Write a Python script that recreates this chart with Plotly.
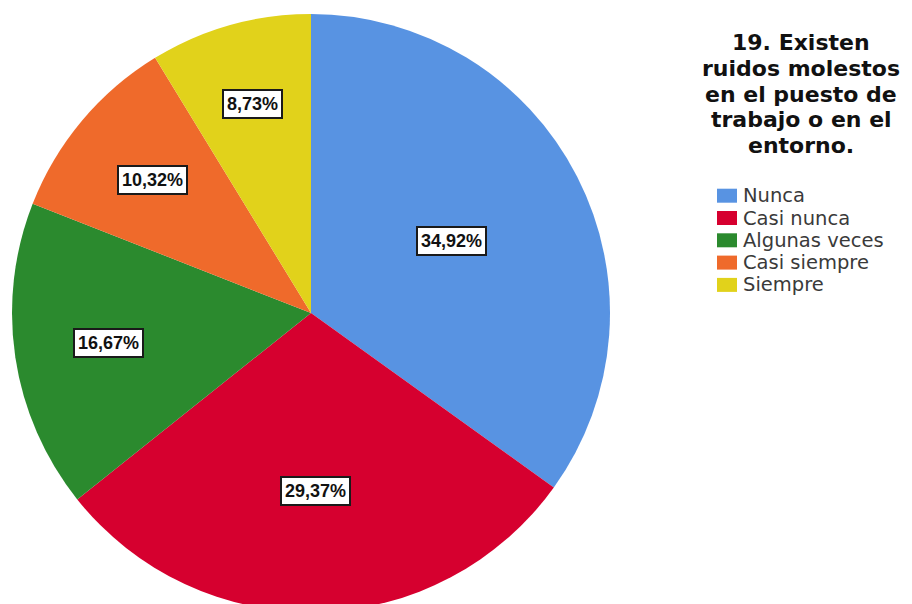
import math
import plotly.graph_objects as go

# Survey answers and their share of responses (%)
categories = ["Nunca", "Casi nunca", "Algunas veces", "Casi siempre", "Siempre"]
percentages = [34.92, 29.37, 16.67, 10.32, 8.73]
title_lines = ["19. Existen", "ruidos molestos", "en el puesto de", "trabajo o en el", "entorno."]

# Styling
colors = ["#5893E2", "#D6002F", "#2B8A2E", "#EF6A2B", "#E1D21B"]
label_radius = [0.527, 0.597, 0.684, 0.692, 0.727]  # radial placement of value boxes (fraction of radius)

W, H = 912, 612
pie_left, pie_right, pie_top = 12, 610, 14
radius = (pie_right - pie_left) / 2
cx = pie_left + radius
cy = pie_top + radius


def px(x):
    return x / W


def py(y):
    return 1 - y / H


def fmt_pct(v):
    return f"{v:.2f}".replace(".", ",") + "%"


fig = go.Figure(
    go.Pie(
        labels=categories,
        values=percentages,
        sort=False,
        direction="clockwise",
        rotation=0,
        marker=dict(colors=colors, line=dict(width=0)),
        textinfo="none",
        hoverinfo="label+percent",
        showlegend=False,
        domain=dict(x=[pie_left / W, pie_right / W], y=[0, 1 - pie_top / H]),
    )
)

annotations = []
shapes = []

# Value boxes placed along each slice's middle angle
total = sum(percentages)
cum = 0.0
for v, frac in zip(percentages, label_radius):
    mid = (cum + v / 2) / total * 2 * math.pi
    cum += v
    lx = cx + radius * frac * math.sin(mid)
    ly = cy - radius * frac * math.cos(mid)
    annotations.append(dict(
        x=px(lx), y=py(ly), xref="paper", yref="paper",
        text=fmt_pct(v), showarrow=False,
        xanchor="center", yanchor="middle",
        font=dict(family="Liberation Sans", size=18, color="#111111", weight="bold"),
        bgcolor="#FFFFFF", bordercolor="#1A1A1A", borderwidth=2, borderpad=3,
    ))

# Legend title
title_x, title_y0, title_step = 801, 42.5, 25.8
for i, line in enumerate(title_lines):
    annotations.append(dict(
        x=px(title_x), y=py(title_y0 + i * title_step), xref="paper", yref="paper",
        text=line, showarrow=False, xanchor="center", yanchor="middle",
        font=dict(family="DejaVu Sans", size=22, color="#111111", weight="bold"),
    ))

# Legend entries
sw_left, sw_w, sw_h = 717, 20, 14
row_y0, row_step = 195.7, 22.3
text_left = 741
for i, (name, col) in enumerate(zip(categories, colors)):
    ry = row_y0 + i * row_step
    shapes.append(dict(
        type="rect", xref="paper", yref="paper",
        x0=px(sw_left), x1=px(sw_left + sw_w),
        y0=py(ry + sw_h / 2), y1=py(ry - sw_h / 2),
        fillcolor=col, line=dict(width=0),
    ))
    annotations.append(dict(
        x=px(text_left), y=py(ry), xref="paper", yref="paper",
        text=name, showarrow=False, xanchor="left", yanchor="middle",
        font=dict(family="DejaVu Sans", size=19.5, color="#3A3A3A"),
    ))

fig.update_layout(
    width=W, height=H,
    margin=dict(l=0, r=0, t=0, b=0),
    paper_bgcolor="#FFFFFF",
    plot_bgcolor="#FFFFFF",
    annotations=annotations,
    shapes=shapes,
)

fig.write_html(
    "out.html",
    post_script=(
        "document.documentElement.style.overflow='hidden';"
        "document.body.style.overflow='hidden';"
        "document.body.style.margin='0';"
    ),
)
